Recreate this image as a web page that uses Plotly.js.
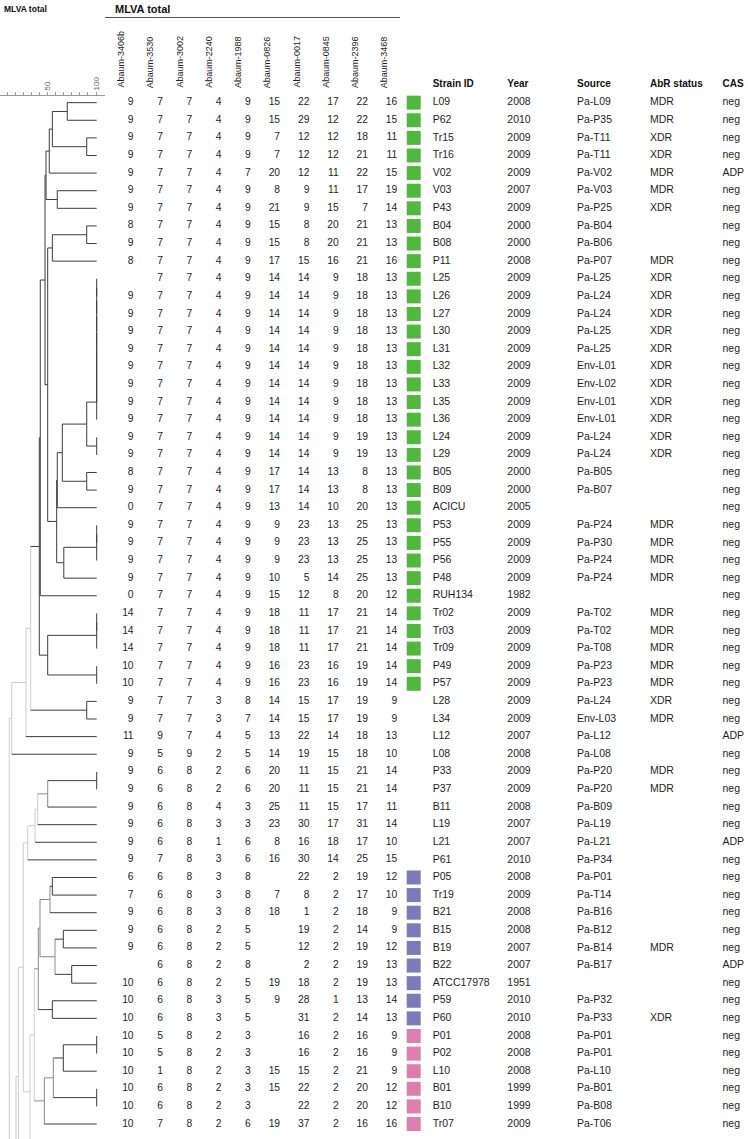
<!DOCTYPE html>
<html><head><meta charset="utf-8">
<script src="https://cdn.plot.ly/plotly-3.0.1.min.js"></script>
<style>html,body{margin:0;padding:0;background:#fff}</style>
</head><body><div id="chart" style="width:748px;height:1139px"></div>
<script>
// ---------------- DATA ----------------
const strainIds = ['L09','P62','Tr15','Tr16','V02','V03','P43','B04','B08','P11','L25','L26','L27','L30','L31','L32','L33','L35','L36','L24','L29','B05','B09','ACICU','P53','P55','P56','P48','RUH134','Tr02','Tr03','Tr09','P49','P57','L28','L34','L12','L08','P33','P37','B11','L19','L21','P61','P05','Tr19','B21','B15','B19','B22','ATCC17978','P59','P60','P01','P02','L10','B01','B10','Tr07'];
const years = ['2008','2010','2009','2009','2009','2007','2009','2000','2000','2008','2009','2009','2009','2009','2009','2009','2009','2009','2009','2009','2009','2000','2000','2005','2009','2009','2009','2009','1982','2009','2009','2009','2009','2009','2009','2009','2007','2008','2009','2009','2008','2007','2007','2010','2008','2009','2008','2008','2007','2007','1951','2010','2010','2008','2008','2008','1999','1999','2009'];
const sources = ['Pa-L09','Pa-P35','Pa-T11','Pa-T11','Pa-V02','Pa-V03','Pa-P25','Pa-B04','Pa-B06','Pa-P07','Pa-L25','Pa-L24','Pa-L24','Pa-L25','Pa-L25','Env-L01','Env-L02','Env-L01','Env-L01','Pa-L24','Pa-L24','Pa-B05','Pa-B07','','Pa-P24','Pa-P30','Pa-P24','Pa-P24','','Pa-T02','Pa-T02','Pa-T08','Pa-P23','Pa-P23','Pa-L24','Env-L03','Pa-L12','Pa-L08','Pa-P20','Pa-P20','Pa-B09','Pa-L19','Pa-L21','Pa-P34','Pa-P01','Pa-T14','Pa-B16','Pa-B12','Pa-B14','Pa-B17','','Pa-P32','Pa-P33','Pa-P01','Pa-P01','Pa-L10','Pa-B01','Pa-B08','Pa-T06'];
const abrStatus = ['MDR','MDR','XDR','XDR','MDR','MDR','XDR','','','MDR','XDR','XDR','XDR','XDR','XDR','XDR','XDR','XDR','XDR','XDR','XDR','','','','MDR','MDR','MDR','MDR','','MDR','MDR','MDR','MDR','MDR','XDR','MDR','','','MDR','MDR','','','','','','','','','MDR','','','','XDR','','','','','',''];
const casStatus = ['neg','neg','neg','neg','ADP','neg','neg','neg','neg','neg','neg','neg','neg','neg','neg','neg','neg','neg','neg','neg','neg','neg','neg','neg','neg','neg','neg','neg','neg','neg','neg','neg','neg','neg','neg','neg','ADP','neg','neg','neg','neg','neg','ADP','neg','neg','neg','neg','neg','neg','ADP','neg','neg','neg','neg','neg','neg','neg','neg','neg'];
// colour group of each strain: G green, P purple, K pink, '' none
const groups = ['G','G','G','G','G','G','G','G','G','G','G','G','G','G','G','G','G','G','G','G','G','G','G','G','G','G','G','G','G','G','G','G','G','G','','','','','','','','','','','P','P','P','P','P','P','P','P','P','K','K','K','K','K','K'];

const markerNames = ['Abaum-3406b','Abaum-3530','Abaum-3002','Abaum-2240','Abaum-1988','Abaum-0826','Abaum-0017','Abaum-0845','Abaum-2396','Abaum-3468'];
const _ = null;
const abaum3406b = [9,9,9,9,9,9,9,8,9,8,_,9,9,9,9,9,9,9,9,9,9,8,9,0,9,9,9,9,0,14,14,14,10,10,9,9,11,9,9,9,9,9,9,9,6,7,9,9,9,_,10,10,10,10,10,10,10,10,10];
const abaum3530  = [7,7,7,7,7,7,7,7,7,7,7,7,7,7,7,7,7,7,7,7,7,7,7,7,7,7,7,7,7,7,7,7,7,7,7,7,9,5,6,6,6,6,6,7,6,6,6,6,6,6,6,6,6,5,5,1,6,6,7];
const abaum3002  = [7,7,7,7,7,7,7,7,7,7,7,7,7,7,7,7,7,7,7,7,7,7,7,7,7,7,7,7,7,7,7,7,7,7,7,7,7,9,8,8,8,8,8,8,8,8,8,8,8,8,8,8,8,8,8,8,8,8,8];
const abaum2240  = [4,4,4,4,4,4,4,4,4,4,4,4,4,4,4,4,4,4,4,4,4,4,4,4,4,4,4,4,4,4,4,4,4,4,3,3,4,2,2,2,4,3,1,3,3,3,3,2,2,2,2,3,3,2,2,2,2,2,2];
const abaum1988  = [9,9,9,9,7,9,9,9,9,9,9,9,9,9,9,9,9,9,9,9,9,9,9,9,9,9,9,9,9,9,9,9,9,9,8,7,5,5,6,6,3,3,6,6,8,8,8,5,5,8,5,5,5,3,3,3,3,3,6];
const abaum0826  = [15,15,7,7,20,8,21,15,15,17,14,14,14,14,14,14,14,14,14,14,14,17,17,13,9,9,9,10,15,18,18,18,16,16,14,14,13,14,20,20,25,23,8,16,_,7,18,_,_,_,19,9,_,_,_,15,15,_,19];
const abaum0017  = [22,29,12,12,12,9,9,8,8,15,14,14,14,14,14,14,14,14,14,14,14,14,14,14,23,23,23,5,12,11,11,11,23,23,15,15,22,19,11,11,11,30,16,30,22,8,1,19,12,2,18,28,31,16,16,15,22,22,37];
const abaum0845  = [17,12,12,12,11,11,15,20,20,16,9,9,9,9,9,9,9,9,9,9,9,13,13,10,13,13,13,14,8,17,17,17,16,16,17,17,14,15,15,15,15,17,18,14,2,2,2,2,2,2,2,1,2,2,2,2,2,2,2];
const abaum2396  = [22,22,18,21,22,17,7,21,21,21,18,18,18,18,18,18,18,18,18,19,19,8,8,20,25,25,25,25,20,21,21,21,19,19,19,19,18,18,21,21,17,31,17,25,19,17,18,14,19,19,19,13,14,16,16,21,20,20,16];
const abaum3468  = [16,15,11,11,15,19,14,13,13,16,13,13,13,13,13,13,13,13,13,13,13,13,13,13,13,13,13,13,12,14,14,14,14,14,9,9,13,10,14,14,11,14,10,15,12,10,9,9,12,13,13,14,13,9,9,9,12,12,16];
const mlvaColumns = [abaum3406b,abaum3530,abaum3002,abaum2240,abaum1988,abaum0826,abaum0017,abaum0845,abaum2396,abaum3468];

// dendrogram scale (similarity %)
const scaleTicks = [100,90.5,82.4,74.3,66.2,58.1,50,41.9,33.8,25.7,17.6,9.5];
const scaleLabels = ['100','','','','','','50','','','','',''];
// offscreen members of the tree (continue below the picture), estimated row positions
const hiddenRows = {'~a':59.4, '~b':61.5, '~c':66};

// ---------------- TREE ----------------
function node(s, shade, a, b){ return {s:s, shade:shade, kids:[a,b]}; }
function ladder(s, shade, names){ let t = names[0]; for (let i=1;i<names.length;i++) t = node(s, shade, t, names[i]); return t; }

const cA = node(70.2,'d','L09','P62');
const cB = node(89.9,'d','Tr15','Tr16');
const cC = node(55.1,'d',cA,cB);
const cD = node(52.0,'d',cC,'V02');
const cE = node(60.1,'d','V03','P43');
const cF = node(48.7,'d',cD,cE);
const cG = node(89.9,'d','B04','B08');
const cH = node(55.1,'d',cG,'P11');
const cL = ladder(100,'d',['L25','L26','L27','L30','L31','L32','L33','L35','L36']);
const cI = node(89.9,'d',cL,node(100,'d','L24','L29'));
const cJ = node(65.2,'d',cI,node(89.9,'d','B05','B09'));
const cK = node(60.1,'d',cJ,'ACICU');
const cM = node(66.7,'d',ladder(100,'d',['P53','P55','P56']),'P48');
const cN = node(59.5,'d',cK,cM);
const cO = node(50.4,'d',cH,cN);
const cQ = node(47.7,'d',cF,cO);
const cR = node(42.9,'d',cQ,'RUH134');
const cU = node(50.4,'d',ladder(100,'d',['Tr02','Tr03','Tr09']),node(100,'d','P49','P57'));
const cV = node(41.9,'d',cR,cU);
const cW = node(33.2,'l',cV,node(89.9,'d','L28','L34'));
const cX = node(28.4,'l',cW,'L12');
const cY = node(14.0,'l',cX,'L08');

const ca = node(50.4,'m',node(100,'d','P33','P37'),'B11');
const cb = node(40.3,'l',ca,'L19');
const cc = node(37.6,'l',cb,'L21');
const cd = node(30.2,'l',cc,'P61');
const ce = node(52.7,'m',node(55.1,'d','P05','Tr19'),'B21');
const cf = node(57.8,'m',node(66.2,'d','B15','B19'),node(74.7,'d','B22','ATCC17978'));
const cg = node(42.6,'m',ce,cf);
const ch = node(40.9,'m',cg,node(55.1,'d','P59','P60'));
const ci = node(56.1,'m',node(66.2,'d',node(100,'d','P01','P02'),'L10'),node(100,'d','B01','B10'));
const cj = node(47.0,'m',ci,'Tr07');
const ck = node(36.8,'l',ch,cj);
const cl = node(32.5,'l',ck,'~a');
const cm = node(25.7,'l',cd,cl);
const cn = node(20.7,'l',cm,'~b');
const co = node(18.3,'l',cn,'~c');
const root = node(11.5,'l',cY,co);

// ---------------- BUILD ----------------
const shadeColor = {d:'#3c3c3c', m:'#8a8a8a', l:'#cdcdcd'};
const segs = {d:{x:[],y:[]}, m:{x:[],y:[]}, l:{x:[],y:[]}};
function seg(shade,x0,y0,x1,y1){ const s=segs[shade]; s.x.push(x0,x1,null); s.y.push(y0,y1,null); }
function place(n){
  if (typeof n === 'string'){
    const r = n in hiddenRows ? hiddenRows[n] : strainIds.indexOf(n);
    return {x:100, y:r, shade:'d', hidden: n in hiddenRows};
  }
  const a = place(n.kids[0]), b = place(n.kids[1]);
  seg(n.shade, n.s, a.y, n.s, b.y);
  [a,b].forEach(c => { if (!c.hidden && c.x > n.s) seg(c.shade, n.s, c.y, c.x, c.y); });
  return {x:n.s, y:(a.y+b.y)/2, shade:n.shade};
}
place(root);

const traces = [];
['l','m','d'].forEach(k => traces.push({type:'scatter', mode:'lines', x:segs[k].x, y:segs[k].y, xaxis:'x', yaxis:'y',
  line:{color:shadeColor[k], width:1}, hoverinfo:'skip', showlegend:false}));

const FONT = 'Liberation Sans, Arial, sans-serif';
// table columns (x positions on the table axis)
const colRight0 = 133.6, colStep = 29.3;
const rows = strainIds.map((s,i)=>i);
mlvaColumns.forEach((col,k) => {
  traces.push({type:'scatter', mode:'text', xaxis:'x2', yaxis:'y',
    x: rows.map(()=>colRight0 + k*colStep), y: rows,
    text: col.map(v => v===null ? '' : String(v)), textposition:'middle left',
    textfont:{family:FONT, size:10.3, color:'#1e1e1e'}, hoverinfo:'skip', showlegend:false});
});
const groupColor = {G:'#50b83c', P:'#7c7ab8', K:'#de7daf'};
['G','P','K'].forEach(g => {
  const idx = rows.filter(i => groups[i]===g);
  traces.push({type:'scatter', mode:'markers', xaxis:'x2', yaxis:'y', x: idx.map(()=>413.7), y: idx,
    marker:{symbol:'square', size:14, color:groupColor[g], line:{width:0}}, hoverinfo:'skip', showlegend:false});
});
const textCols = [[strainIds,432.7],[years,507.3],[sources,577],[abrStatus,650],[casStatus,722.5]];
textCols.forEach(([arr,x]) => {
  traces.push({type:'scatter', mode:'text', xaxis:'x2', yaxis:'y', x: rows.map(()=>x), y: rows, text: arr,
    textposition:'middle right', textfont:{family:FONT, size:10.5, color:'#1e1e1e'},
    hoverinfo:'skip', showlegend:false});
});
const headers = ['Strain ID','Year','Source','AbR status','CAS'];
traces.push({type:'scatter', mode:'text', xaxis:'x2', yaxis:'y', x: textCols.map(c=>c[1]), y: headers.map(()=>-1.02),
  text: headers.map(h=>'<b>'+h+'</b>'), textposition:'middle right',
  textfont:{family:FONT, size:10, color:'#111'}, hoverinfo:'skip', showlegend:false});

const annotations = markerNames.map((m,k) => ({xref:'x2', yref:'y', x: 121 + k*29.25, y: -0.72, text: m, textangle:-90,
  showarrow:false, xanchor:'center', yanchor:'bottom', font:{family:FONT, size:9, color:'#222'}}));
annotations.push({xref:'x2', yref:'paper', x:113, y:1-8.5/1139, text:'<b>MLVA total</b>', showarrow:false, xanchor:'left', yanchor:'middle',
  font:{family:FONT, size:11, color:'#111'}});
annotations.push({xref:'x2', yref:'paper', x:2, y:1-8.5/1139, text:'<b>MLVA total</b>', showarrow:false, xanchor:'left', yanchor:'middle',
  font:{family:FONT, size:8.5, color:'#111'}});

const layout = {
  width:748, height:1139, margin:{l:0,r:0,t:0,b:0}, paper_bgcolor:'#fff', plot_bgcolor:'rgba(0,0,0,0)', showlegend:false,
  xaxis:{domain:[0,0.14], range:[2.13,108.12], side:'top', anchor:'free', position:1-95/1139,
    showgrid:false, zeroline:false, showline:true, linecolor:'#9a9a9a', linewidth:1,
    tickmode:'array', tickvals:scaleTicks, ticktext:scaleLabels, ticks:'outside', ticklen:3, tickcolor:'#9a9a9a', tickangle:-90,
    tickfont:{family:FONT, size:8, color:'#666'}},
  xaxis2:{domain:[0,1], range:[0,748], anchor:'y', visible:false},
  yaxis:{domain:[0,1], range:[58.85,-5.83], visible:false},
  shapes:[{type:'line', xref:'x2', yref:'paper', x0:105, x1:400, y0:1-17.5/1139, y1:1-17.5/1139, line:{color:'#555', width:1}}],
  annotations: annotations
};
Plotly.newPlot('chart', traces, layout, {staticPlot:true, displayModeBar:false});
</script></body></html>
